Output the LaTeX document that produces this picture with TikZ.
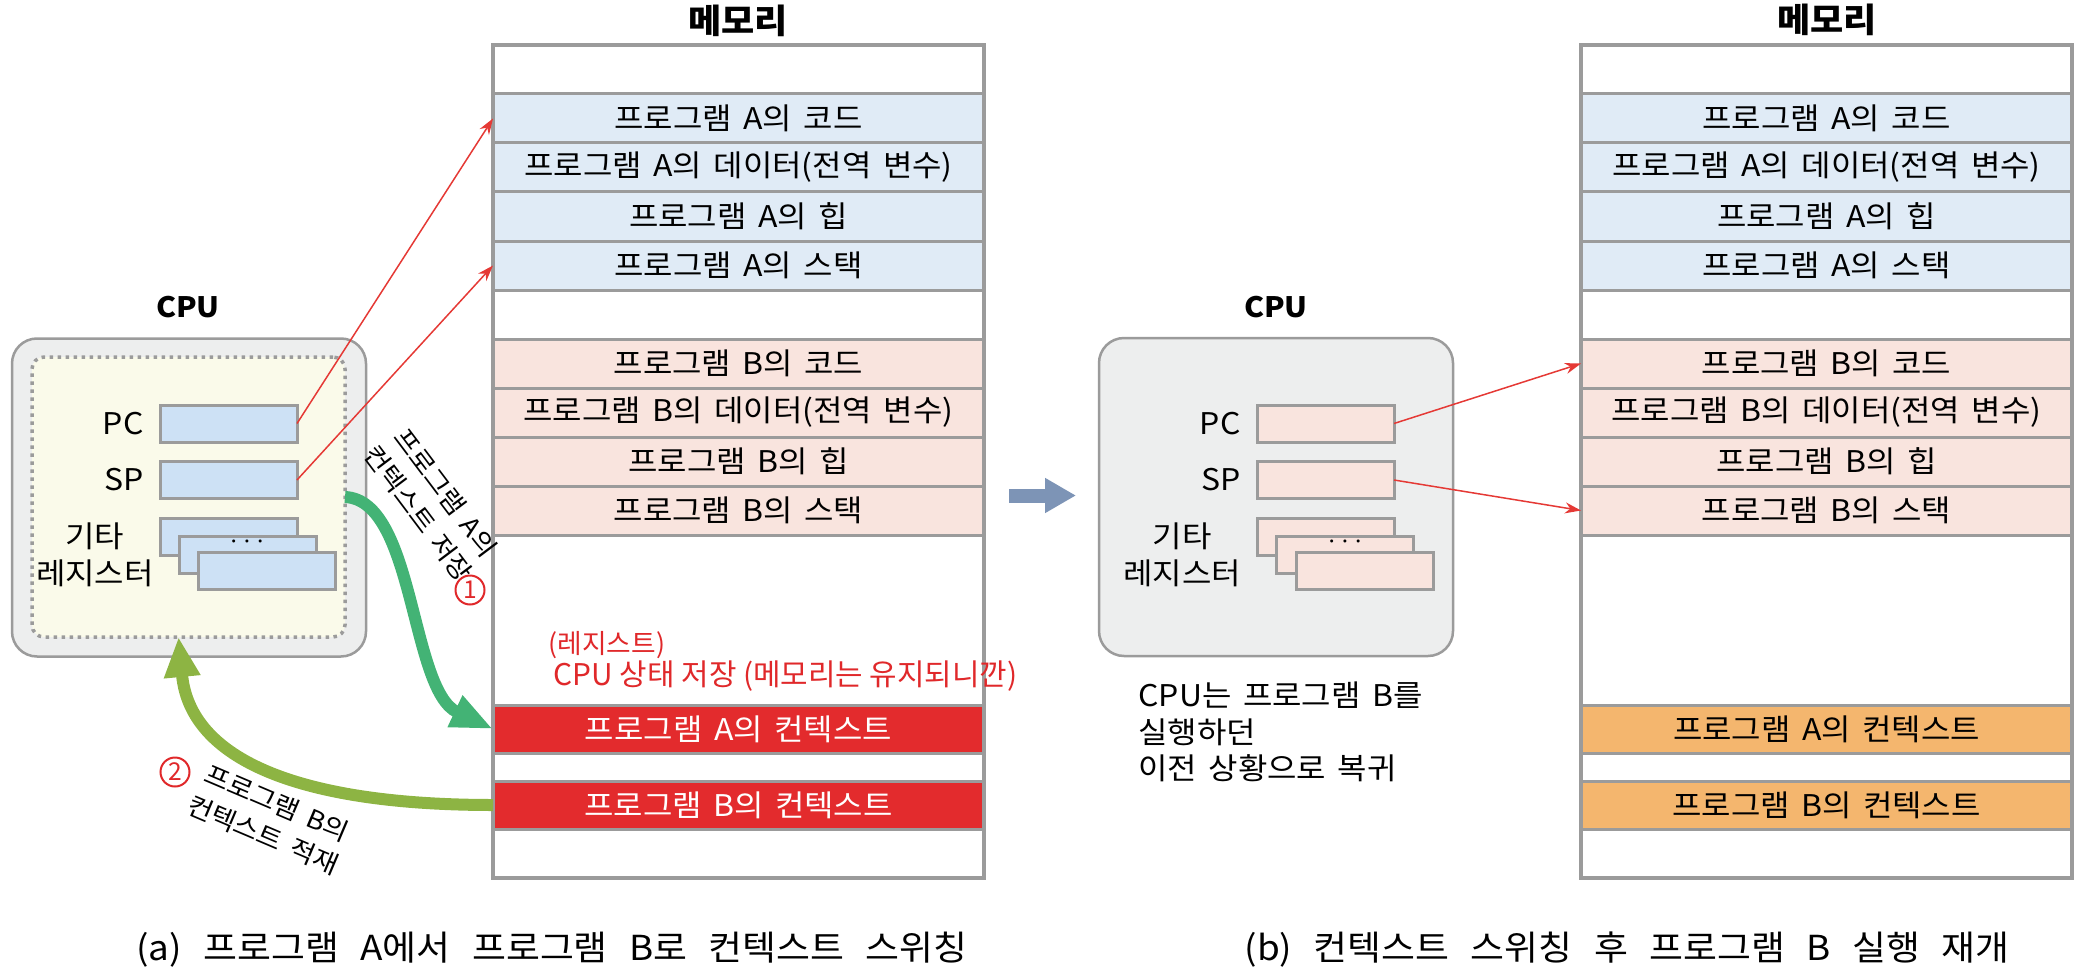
\documentclass[tikz,border=0pt]{standalone}
\usepackage{fontspec}
\setmainfont{Noto Sans CJK KR}[FakeStretch=1.07, WordSpace=1.6]
\newfontfamily\capfont{Noto Sans CJK KR}[FakeStretch=1.07, WordSpace=2.6]
\newfontfamily\memofont{Noto Sans CJK KR}
\usetikzlibrary{arrows.meta,positioning}
\definecolor{memgray}{HTML}{9B9B9B}
\definecolor{memA}{HTML}{E0EBF6}
\definecolor{memB}{HTML}{F9E4DE}
\definecolor{regA}{HTML}{CDE1F5}
\definecolor{ctxred}{HTML}{E32B2D}
\definecolor{ctxorange}{HTML}{F4B66E}
\definecolor{cpugray}{HTML}{EDEEEE}
\definecolor{coreyellow}{HTML}{FAFAEA}
\definecolor{ptrred}{HTML}{E53935}
\definecolor{savegreen}{HTML}{43B375}
\definecolor{loadgreen}{HTML}{8DB443}
\definecolor{switchblue}{HTML}{7D94B6}
\definecolor{handred}{HTML}{E0282A}
\begin{document}
\begin{tikzpicture}[x=0.1mm, y=-0.1mm, font=\fontsize{8.5}{10.4}\selectfont,
    cell/.style={draw=memgray, line width=0.3mm, minimum width=49.1mm, anchor=north west, inner sep=0pt, outer sep=0pt},
    reg/.style={draw=memgray, line width=0.3mm, minimum width=13.7mm, minimum height=3.7mm, inner sep=0pt, outer sep=0pt},
    cpubox/.style={draw=memgray, line width=0.25mm, fill=cpugray, rounded corners=2.5mm, minimum width=35.4mm, minimum height=31.8mm, outer sep=0pt},
    corebox/.style={draw=memgray, line width=0.35mm, dash pattern=on 0.35mm off 0.45mm, fill=coreyellow, rounded corners=1.2mm, minimum width=31.3mm, minimum height=28mm, outer sep=0pt},
    cputitle/.style={font=\fontsize{8}{10}\selectfont\bfseries},
    memtitle/.style={font=\fontsize{9.6}{11}\selectfont\bfseries},
    lbl/.style={inner sep=0.5pt},
    ptr/.style={ptrred, line width=0.15mm, -{Stealth[length=1.6mm, width=1.1mm]}},
    savearrow/.style={savegreen, line width=1.2mm, -{Triangle[length=4.2mm, width=3.2mm]}},
    loadarrow/.style={loadgreen, line width=1.2mm, -{Triangle[length=4mm, width=3.4mm]}},
    memo/.style={handred, inner sep=0pt, font=\memofont\fontsize{8.5}{10}\selectfont},
    num/.style={circle, draw=handred, text=handred, line width=0.2mm, minimum size=2.9mm, inner sep=0pt, font=\memofont\fontsize{7}{8}\selectfont},
    sidetext/.style={align=center, inner sep=0pt, font=\fontsize{7.3}{9.8}\selectfont},
    caption/.style={font=\capfont\fontsize{9.8}{11}\selectfont},
  ]
  \useasboundingbox (0,0) rectangle (2094,975);

  \foreach \m/\x/\cf/\ct in {L/493/ctxred/white, R/1581/ctxorange/black} {
    \foreach \i/\y/\h/\f/\tc/\txt in {
        0/45/49/white/black/{},
        1/94/49/memA/black/프로그램 A의 코드,
        2/143/49/memA/black/프로그램 A의 데이터(전역 변수),
        3/192/49/memA/black/프로그램 A의 힙,
        4/241/49/memA/black/프로그램 A의 스택,
        5/290/49/white/black/{},
        6/339/49/memB/black/프로그램 B의 코드,
        7/388/49/memB/black/프로그램 B의 데이터(전역 변수),
        8/437/49/memB/black/프로그램 B의 힙,
        9/486/49/memB/black/프로그램 B의 스택,
        10/535/170/white/black/{},
        11/705/48/\cf/\ct/프로그램 A의 컨텍스트,
        12/753/28/white/black/{},
        13/781/48/\cf/\ct/프로그램 B의 컨텍스트,
        14/829/49/white/black/{}}
      \node[cell, fill=\f, text=\tc, minimum height=\h*0.1mm] (\m\i) at (\x,\y) {\txt};
    \draw[memgray, line width=0.4mm] (\m0.north west) rectangle (\m14.south east);
  }
  \node[memtitle] (memLt) at (738,21) {메모리};
  \node[memtitle] (memRt) at (1827,20) {메모리};

  \node[cputitle] (cpuLt) at (188,307) {CPU};
  \node[cpubox] (cpuL) at (189,497.5) {};
  \node[corebox] (coreL) at (188.5,497) {};
  \node[reg, fill=regA] (pcL) at (228.5,423.5) {};
  \node[reg, fill=regA] (spL) at (228.5,480) {};
  \node[reg, fill=regA] (r1L) at (228.5,536.5) {};
  \node[reg, fill=regA] (r2L) at (247.5,554.5) {};
  \node[reg, fill=regA] (r3L) at (267,571) {};
  \node[lbl] (dotL) at (247,542) {$\cdots$};
  \node[lbl, left=1.4mm of pcL] (pcLt) {PC};
  \node[lbl, left=1.4mm of spL] (spLt) {SP};
  \node[lbl, align=center] (etcL) at (95,555) {기타\\레지스터};

  \node[cputitle] (cpuRt) at (1276,307) {CPU};
  \node[cpubox] (cpuR) at (1276,497) {};
  \node[reg, fill=memB] (pcR) at (1325.5,423.5) {};
  \node[reg, fill=memB] (spR) at (1325.5,480) {};
  \node[reg, fill=memB] (r1R) at (1325.5,536.5) {};
  \node[reg, fill=memB] (r2R) at (1345,554.5) {};
  \node[reg, fill=memB] (r3R) at (1364.5,571) {};
  \node[lbl] (dotR) at (1345,542) {$\cdots$};
  \node[lbl, left=1.4mm of pcR] (pcRt) {PC};
  \node[lbl, left=1.4mm of spR] (spRt) {SP};
  \node[lbl, align=center] (etcR) at (1182,555) {기타\\레지스터};
  \node[lbl, anchor=west, align=left] (backR) at (1136,732) {CPU는 프로그램 B를\\실행하던\\이전 상황으로 복귀};

  \draw[ptr] (pcL.east) -- (L1.west);
  \draw[ptr] (spL.east) -- (L4.west);
  \draw[ptr] (pcR.east) -- (R6.west);
  \draw[ptr] (spR.east) -- (R9.west);

  \draw[savearrow] (coreL.east) .. controls (415,500) and (410,690) .. (L11.west);
  \draw[loadarrow] (L13.west) .. controls (300,805) and (190,760) .. ([xshift=-1mm]coreL.south);
  \node[sidetext, rotate=-53] (saveT) at (432,503) {프로그램 A의\\컨텍스트 저장};
  \node[sidetext, rotate=-23] (loadT) at (270,819) {프로그램 B의\\컨텍스트 적재};
  \node[num] (n1) at (470,590) {1};
  \node[num] (n2) at (175,772) {2};
  \node[memo, anchor=west, font=\memofont\fontsize{7.6}{9}\selectfont] (regT) at (548,645) {(레지스트)};
  \node[memo, anchor=west] (stateT) at (553,676) {CPU 상태 저장 (메모리는 유지되니깐)};

  \coordinate (sw1) at (1009,495.5);
  \coordinate (sw2) at (1076,495.5);
  \draw[switchblue, line width=1.4mm, -{Triangle[length=3.1mm, width=3.3mm]}] (sw1) -- (sw2);

  \node[caption] (capA) at (552,950) {(a) 프로그램 A에서 프로그램 B로 컨텍스트 스위칭};
  \node[caption] (capB) at (1627,950) {(b) 컨텍스트 스위칭 후 프로그램 B 실행 재개};
\end{tikzpicture}
\end{document}
